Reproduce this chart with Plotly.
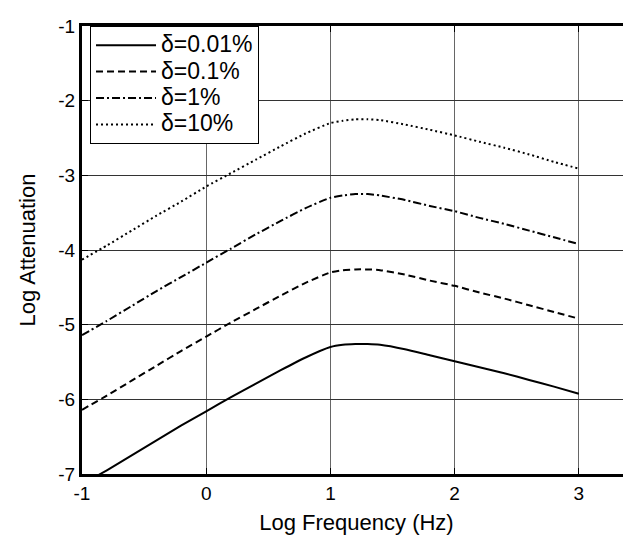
import plotly.graph_objects as go

log_freq = [-1.0, -0.8, -0.6, -0.4, -0.2, 0.0, 0.2, 0.4, 0.6, 0.8, 1.0,
            1.1, 1.2, 1.3, 1.4, 1.6, 1.8, 2.0, 2.2, 2.4, 2.6, 2.8, 3.0]

att_001 = [-7.14, -6.95, -6.75, -6.55, -6.35, -6.16, -5.97, -5.79, -5.61, -5.44, -5.30,
           -5.27, -5.26, -5.26, -5.27, -5.33, -5.41, -5.49, -5.57, -5.65, -5.74, -5.83, -5.925]
att_01 = [-6.14, -5.95, -5.75, -5.55, -5.35, -5.16, -4.97, -4.79, -4.61, -4.44, -4.30,
          -4.27, -4.26, -4.26, -4.27, -4.33, -4.41, -4.48, -4.57, -4.65, -4.74, -4.83, -4.92]
att_1 = [-5.14, -4.95, -4.75, -4.55, -4.36, -4.17, -3.98, -3.79, -3.61, -3.44, -3.30,
         -3.27, -3.25, -3.25, -3.27, -3.33, -3.41, -3.48, -3.57, -3.65, -3.74, -3.83, -3.92]
att_10 = [-4.13, -3.94, -3.74, -3.54, -3.35, -3.15, -2.97, -2.79, -2.61, -2.44, -2.30,
          -2.27, -2.25, -2.25, -2.26, -2.32, -2.39, -2.465, -2.55, -2.63, -2.72, -2.82, -2.91]

series_names = ["δ=0.01%", "δ=0.1%", "δ=1%", "δ=10%"]
series_values = [att_001, att_01, att_1, att_10]
series_dash = ["solid", "7px,4px", "8px,3px,2px,3px", "2px,3px"]

fig = go.Figure()
for name, vals, dash in zip(series_names, series_values, series_dash):
    fig.add_trace(go.Scatter(
        x=log_freq, y=vals, mode="lines",
        name='<span style="font-size:23px">' + name + '</span>',
        line=dict(color="black", width=2, dash=dash, shape="spline", smoothing=0.5),
    ))

font_family = "Liberation Sans, Arial, sans-serif"
fig.update_layout(
    width=631, height=537,
    margin=dict(l=74, r=8, t=10, b=71),
    plot_bgcolor="white", paper_bgcolor="white",
    font=dict(family=font_family, color="black", size=19),
    showlegend=True,
    legend=dict(
        x=0.0146, y=1.0, xanchor="left", yanchor="top",
        bgcolor="white", bordercolor="black", borderwidth=1,
        font=dict(size=18, family=font_family, color="black"),
        itemwidth=60, tracegroupgap=0,
    ),
    xaxis=dict(
        range=[-1, 3.42], tickvals=[-1, 0, 1, 2, 3], ticktext=["-1", "0", "1", "2", "3"],
        showgrid=True, gridcolor="#666", gridwidth=1,
        showline=True, linecolor="black", linewidth=3, mirror="ticks",
        ticks="inside", ticklen=6, tickcolor="black", tickwidth=1,
        zeroline=False,
        title=dict(text="Log Frequency (Hz)", font=dict(size=22), standoff=12),
        tickfont=dict(size=19), ticklabeloverflow="allow",
    ),
    yaxis=dict(
        range=[-7, -1], tickvals=[-7, -6, -5, -4, -3, -2, -1],
        ticktext=["-7", "-6", "-5", "-4", "-3", "-2", "-1"],
        showgrid=True, gridcolor="#333", gridwidth=1,
        showline=True, linecolor="black", linewidth=3, mirror=False,
        ticks="inside", ticklen=6, tickcolor="black", tickwidth=1,
        zeroline=False,
        title=dict(text="Log Attenuation", font=dict(size=22), standoff=17),
        tickfont=dict(size=19), ticklabeloverflow="allow",
    ),
)

fig.write_html("out.html")
